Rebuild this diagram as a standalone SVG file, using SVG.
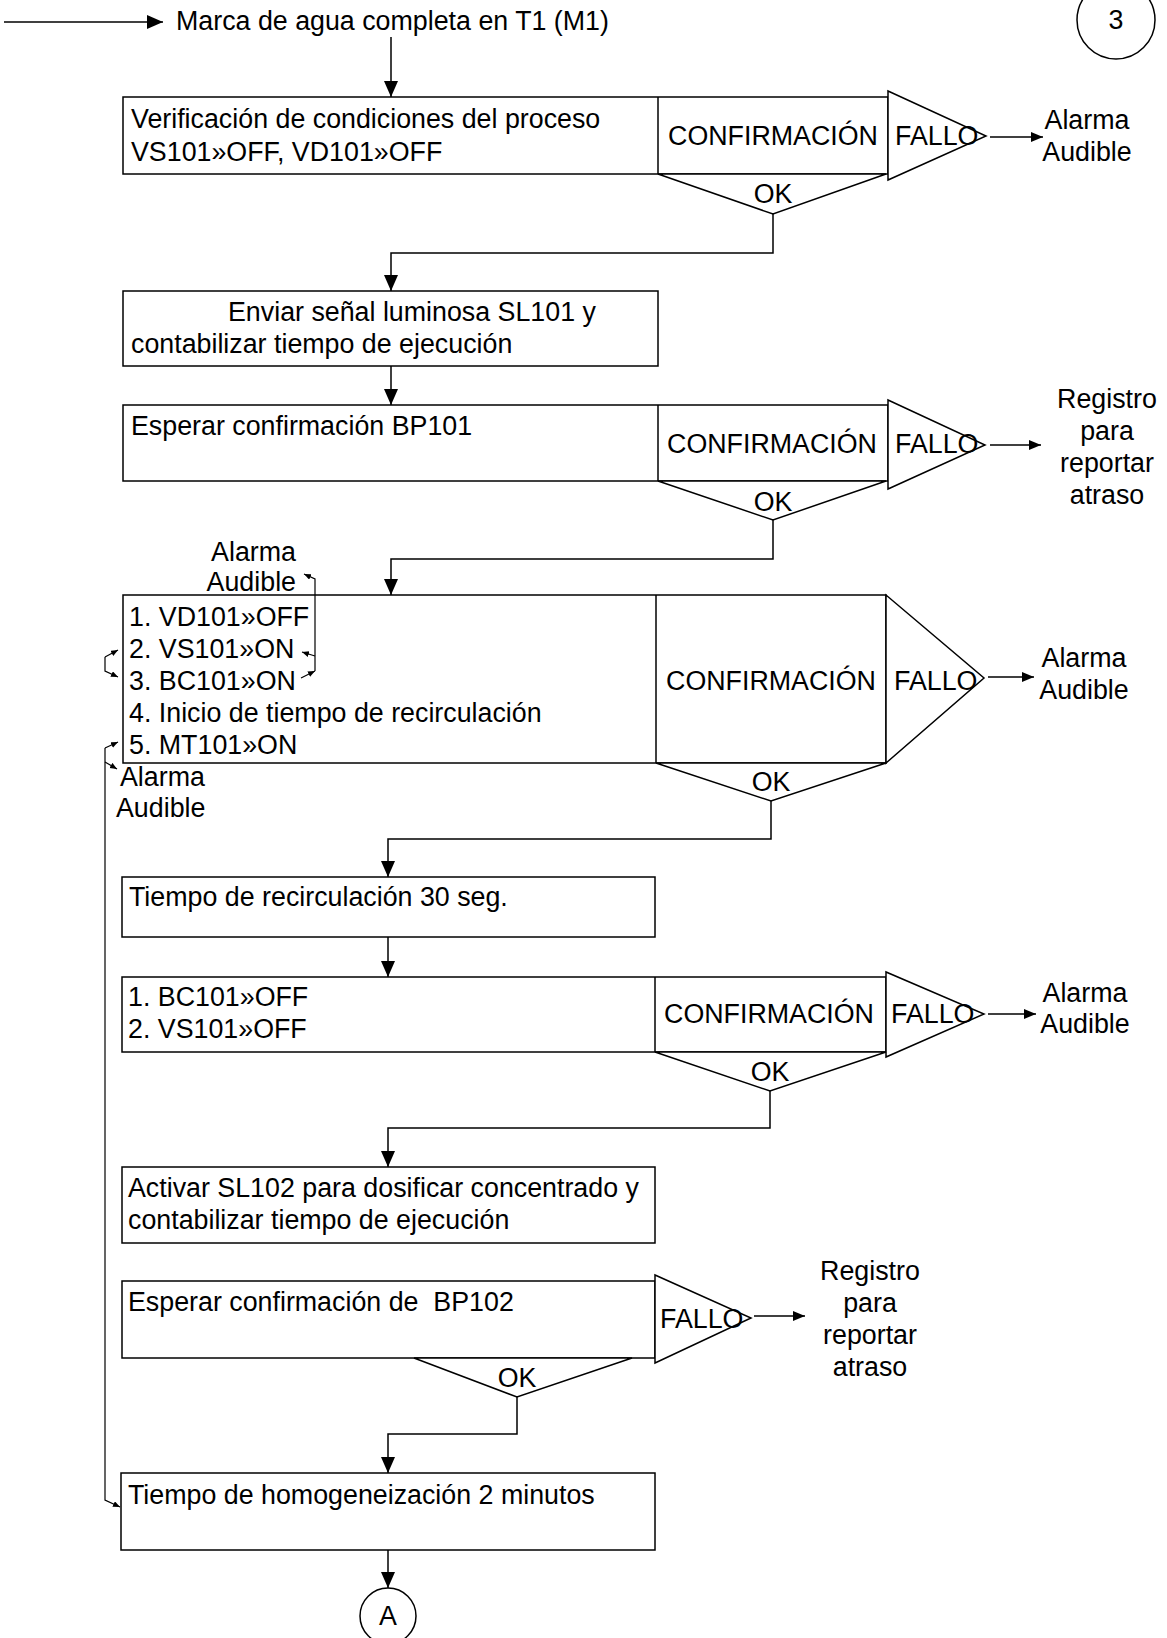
<svg xmlns="http://www.w3.org/2000/svg" width="1167" height="1638" viewBox="0 0 1167 1638">
  <style>
    text { font-family: "Liberation Sans", Arial, sans-serif; font-size: 26.8px; fill: #000; white-space: pre; }
    .c { text-anchor: middle; }
    .e { text-anchor: end; }
    .box { fill: #fff; stroke: #000; stroke-width: 1.5; }
    .ln { fill: none; stroke: #000; stroke-width: 1.5; }
    .arr { fill: none; stroke: #000; stroke-width: 1.5; marker-end: url(#ah); }
    .arrs { fill: none; stroke: #000; stroke-width: 1.5; marker-end: url(#ahs); }
    .arrt { fill: none; stroke: #000; stroke-width: 1.2; marker-end: url(#aht); }
  </style>
  <defs>
    <marker id="ah" markerUnits="userSpaceOnUse" markerWidth="18" markerHeight="16" refX="16" refY="7" orient="auto">
      <path d="M0,0 L16,7 L0,14 z" fill="#000"/>
    </marker>
    <marker id="ahs" markerUnits="userSpaceOnUse" markerWidth="14" markerHeight="12" refX="12" refY="5" orient="auto">
      <path d="M0,0 L12,5 L0,10 z" fill="#000"/>
    </marker>
    <marker id="aht" markerUnits="userSpaceOnUse" markerWidth="9" markerHeight="8" refX="7" refY="3" orient="auto">
      <path d="M0,0 L7,3 L0,6 z" fill="#000"/>
    </marker>
  </defs>
  <rect width="1167" height="1638" fill="#fff"/>

  <!-- page connector -->
  <g id="page3">
    <circle cx="1116" cy="20" r="39" class="ln"/>
    <text x="1116" y="29" class="c">3</text>
  </g>

  <!-- start label -->
  <g id="start">
    <text x="176" y="30">Marca de agua completa en T1 (M1)</text>
  </g>

  <!-- 1: process condition check -->
  <g id="check">
    <rect x="123" y="97" width="765" height="77" class="box"/>
    <line x1="658" y1="97" x2="658" y2="174" class="ln"/>
    <polygon points="888,91 888,180 986,136" class="box"/>
    <polygon points="658,174 886,174 773,214" class="box"/>
    <text x="131" y="128">Verificación de condiciones del proceso</text>
    <text x="131" y="161">VS101»OFF, VD101»OFF</text>
    <text x="773" y="145" class="c">CONFIRMACIÓN</text>
    <text x="895" y="145">FALLO</text>
    <text x="773" y="203" class="c">OK</text>
  </g>
  <g id="alarm1">
    <text x="1087" y="129" class="c">Alarma</text>
    <text x="1087" y="161" class="c">Audible</text>
  </g>

  <!-- 2: light signal -->
  <g id="signal">
    <rect x="123" y="291" width="535" height="75" class="box"/>
    <text x="228" y="321">Enviar señal luminosa SL101 y</text>
    <text x="131" y="353">contabilizar tiempo de ejecución</text>
  </g>

  <!-- 3: wait for BP101 -->
  <g id="wait101">
    <rect x="123" y="405" width="765" height="76" class="box"/>
    <line x1="658" y1="405" x2="658" y2="481" class="ln"/>
    <polygon points="888,400 888,489 985,445" class="box"/>
    <polygon points="658,481 886,481 773,520" class="box"/>
    <text x="131" y="435">Esperar confirmación BP101</text>
    <text x="772" y="453" class="c">CONFIRMACIÓN</text>
    <text x="895" y="453">FALLO</text>
    <text x="773" y="511" class="c">OK</text>
  </g>
  <g id="log1">
    <text x="1107" y="408" class="c">Registro</text>
    <text x="1107" y="440" class="c">para</text>
    <text x="1107" y="472" class="c">reportar</text>
    <text x="1107" y="504" class="c">atraso</text>
  </g>

  <!-- 4: start recirculation sequence -->
  <g id="sequence">
    <rect x="123" y="595" width="763" height="168" class="box"/>
    <line x1="656" y1="595" x2="656" y2="763" class="ln"/>
    <polygon points="886,595 886,763 984,678" class="box"/>
    <polygon points="656,763 886,763 771,801" class="box"/>
    <text x="129" y="626">1. VD101»OFF</text>
    <text x="129" y="658">2. VS101»ON</text>
    <text x="129" y="690">3. BC101»ON</text>
    <text x="129" y="722">4. Inicio de tiempo de recirculación</text>
    <text x="129" y="754">5. MT101»ON</text>
    <text x="771" y="690" class="c">CONFIRMACIÓN</text>
    <text x="894" y="690">FALLO</text>
    <text x="771" y="791" class="c">OK</text>
  </g>
  <g id="alarm2">
    <text x="1084" y="667" class="c">Alarma</text>
    <text x="1084" y="699" class="c">Audible</text>
  </g>
  <g id="alarm-top">
    <text x="296" y="561" class="e">Alarma</text>
    <text x="296" y="591" class="e">Audible</text>
  </g>
  <g id="alarm-bottom">
    <text x="120" y="786">Alarma</text>
    <text x="116" y="817">Audible</text>
  </g>

  <!-- 5: recirculation time -->
  <g id="recirc">
    <rect x="122" y="877" width="533" height="60" class="box"/>
    <text x="129" y="906">Tiempo de recirculación 30 seg.</text>
  </g>

  <!-- 6: stop pump and valve -->
  <g id="stop">
    <rect x="122" y="977" width="764" height="75" class="box"/>
    <line x1="655" y1="977" x2="655" y2="1052" class="ln"/>
    <polygon points="886,972 886,1057 984,1014" class="box"/>
    <polygon points="655,1052 886,1052 770,1091" class="box"/>
    <text x="128" y="1006">1. BC101»OFF</text>
    <text x="128" y="1038">2. VS101»OFF</text>
    <text x="769" y="1023" class="c">CONFIRMACIÓN</text>
    <text x="891" y="1023">FALLO</text>
    <text x="770" y="1081" class="c">OK</text>
  </g>
  <g id="alarm3">
    <text x="1085" y="1002" class="c">Alarma</text>
    <text x="1085" y="1033" class="c">Audible</text>
  </g>

  <!-- 7: dosing -->
  <g id="dosing">
    <rect x="122" y="1167" width="533" height="76" class="box"/>
    <text x="128" y="1197">Activar SL102 para dosificar concentrado y</text>
    <text x="128" y="1229">contabilizar tiempo de ejecución</text>
  </g>

  <!-- 8: wait for BP102 -->
  <g id="wait102">
    <rect x="122" y="1281" width="533" height="77" class="box"/>
    <polygon points="655,1275 655,1363 751,1318" class="box"/>
    <polygon points="414,1358 632,1358 517,1397" class="box"/>
    <text x="128" y="1311">Esperar confirmación de  BP102</text>
    <text x="660" y="1328">FALLO</text>
    <text x="517" y="1387" class="c">OK</text>
  </g>
  <g id="log2">
    <text x="870" y="1280" class="c">Registro</text>
    <text x="870" y="1312" class="c">para</text>
    <text x="870" y="1344" class="c">reportar</text>
    <text x="870" y="1376" class="c">atraso</text>
  </g>

  <!-- 9: homogenisation -->
  <g id="homog">
    <rect x="121" y="1473" width="534" height="77" class="box"/>
    <text x="128" y="1504">Tiempo de homogeneización 2 minutos</text>
  </g>

  <!-- off-page connector -->
  <g id="pageA">
    <circle cx="388" cy="1616" r="28" class="ln"/>
    <text x="388" y="1625" class="c">A</text>
  </g>

  <!-- connectors -->
  <g id="connectors">
    <path d="M4,22 H163" class="arr"/>
    <path d="M391,37 V97" class="arr"/>
    <path d="M773,214 V253 H391 V291" class="arr"/>
    <path d="M391,366 V405" class="arr"/>
    <path d="M773,520 V559 H391 V595" class="arr"/>
    <path d="M771,801 V839 H388 V877" class="arr"/>
    <path d="M388,937 V977" class="arr"/>
    <path d="M770,1091 V1128 H388 V1167" class="arr"/>
    <path d="M517,1397 V1434 H388 V1473" class="arr"/>
    <path d="M388,1550 V1588" class="arr"/>

    <path d="M990,137 H1043" class="arrs"/>
    <path d="M990,445 H1041" class="arrs"/>
    <path d="M988,677 H1034" class="arrs"/>
    <path d="M988,1014 H1036" class="arrs"/>
    <path d="M754,1316 H805" class="arrs"/>

    <!-- small links around the sequence list -->
    <path d="M301,678 L315,671" class="arrt"/>
    <path d="M315,671 V579 L304,574" class="arrt"/>
    <path d="M315,656 L302,652" class="arrt"/>
    <path d="M105,657 L118,650" class="arrt"/>
    <path d="M105,657 V671 L118,677" class="arrt"/>
    <path d="M105,748 L118,742" class="arrt"/>
    <path d="M105,762 L117,769" class="arrt"/>
    <path d="M105,748 V1500 L120,1507" class="arrt"/>
  </g>
</svg>
